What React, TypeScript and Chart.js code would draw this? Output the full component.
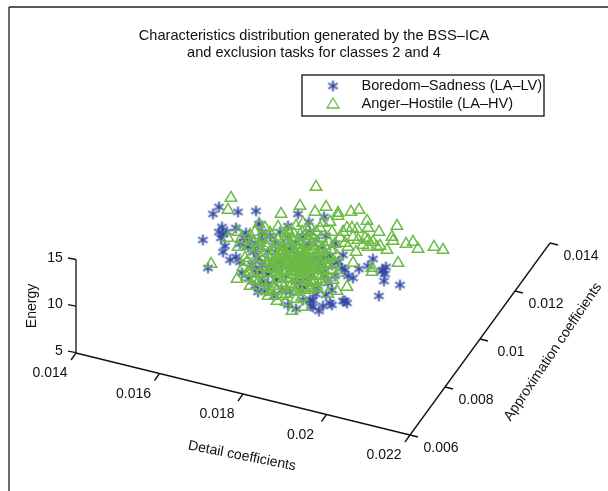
import React, { useEffect, useRef } from "react";
import { Chart, registerables } from "chart.js";

Chart.register(...registerables);

const titleLines = ["Characteristics distribution generated by the BSS–ICA", "and exclusion tasks for classes 2 and 4"];
const seriesNames = ["Boredom–Sadness (LA–LV)", "Anger–Hostile (LA–HV)"];
const energyTicks = [5, 10, 15];
const detailTicks = ["0.014", "0.016", "0.018", "0.02", "0.022"];
const approxTicks = ["0.006", "0.008", "0.01", "0.012", "0.014"];

// Values, in the projected plane of the 3-D view.
const boredom: [number, number][] = [
  [219,207],[213,214],[238,212],[256,211],[298,214],[309,222],[203,240],[222,227],[236,228],[223,234],[227,232],[221,238],[219,232],[225,246],[223,252],[230,260],[236,257],[208,268],[244,238],[246,233],[259,224],[242,273],[249,279],[262,282],[259,272],
  [303,287],[305,283],[310,300],[313,300],[296,309],[311,306],[319,311],[324,217],[343,255],[373,259],[368,266],[359,269],[345,270],[342,268],[348,276],[353,278],[383,270],[386,267],[385,274],[382,271],[384,281],[400,285],[379,296],[343,301],[347,303],[345,301],[330,303],[332,305],[323,306],[326,295],[332,290],[313,307],[332,265],[330,256],[322,268],[325,275],[335,244],
  [250,240],[255,246],[262,240],[270,236],[275,243],[268,252],[258,258],[252,265],[262,265],[272,262],[278,268],[284,258],[290,250],[296,243],[302,236],[310,232],[316,240],[322,248],[326,236],[306,248],[298,255],[292,264],[300,270],[308,262],[315,258],[320,266],[312,275],[304,278],[296,282],[286,276],[276,280],[268,274],[282,290],[290,292],[274,296],[265,291],[255,286],[258,292],[280,232],[288,226],[262,232],[254,252],[248,247],[240,262],[268,284],[288,238],[276,252],[284,246],[310,244],[296,262],[280,262],[270,270],[300,290],[318,286],[328,283],[335,276],[338,262],[324,258],[316,294],[288,305],[303,300],[240,244],[256,270],
];
const anger: [number, number][] = [
  [231,198],[228,210],[300,206],[281,214],[316,187],[315,212],[326,207],[338,213],[338,216],[351,212],[359,210],[367,221],[397,226],[368,228],[323,223],[347,228],[352,228],[357,229],[343,232],[332,232],[379,232],[392,237],[393,241],[365,238],[368,240],[373,242],[380,246],[387,250],[406,244],[413,242],[418,249],[434,247],[443,250],[398,263],[353,237],[345,243],[348,247],[356,252],[337,256],[353,263],[372,268],[372,272],[338,273],[333,280],[347,287],[337,291],[328,294],[315,288],[363,245],[368,247],[377,247],
  [238,232],[228,238],[238,247],[245,258],[211,264],[259,224],[265,228],[278,227],[287,230],[250,235],[253,242],[237,279],[247,277],[250,286],[262,282],[267,290],[277,290],[277,301],[286,302],[292,311],[304,307],[302,297],[305,288],[317,288],[248,272],[303,223],[310,227],[296,226],[320,228],[330,222],[340,238],[358,240],
  [255,232],[262,238],[270,233],[278,240],[286,236],[294,234],[302,232],[312,236],[321,238],[329,242],[258,248],[266,246],[274,250],[282,247],[290,243],[298,241],[306,243],[314,246],[322,249],[331,250],[252,255],[261,258],[269,258],[277,257],[285,254],[293,252],[301,250],[309,252],[317,254],[325,257],[256,266],[264,267],[272,264],[280,264],[288,261],[296,259],[304,258],[312,260],[320,262],[328,265],[260,274],[268,273],[276,272],[284,270],[292,268],[300,266],[308,267],[316,268],[324,271],[332,270],[270,281],[278,279],[286,278],[294,275],[302,273],[310,275],[318,276],[326,279],[284,286],[292,284],[300,281],[308,282],[296,292],[286,294],[274,286],[296,270],[300,262],[304,254],[292,258],[308,262],[288,266],[298,248],[312,270],[282,258],[302,278],[293,288],[310,290],
  [276,244],[281,251],[287,255],[291,248],[295,254],[299,257],[303,262],[307,256],[311,250],[315,257],[319,252],[323,260],[279,261],[283,266],[287,271],[291,263],[295,267],[299,272],[303,268],[307,272],[311,265],[315,264],[319,270],[323,266],[285,241],[293,240],[301,245],[309,239],[317,243],[325,246],[272,255],[275,262],[267,262],[263,253],[270,268],[279,274],[290,279],[298,278],[306,280],[314,281],[322,275],[329,258],[335,263],[335,244],[268,240],[260,243],[249,246],[247,262],[254,273],[289,232],[305,236],[316,232],[298,286],[304,290],[281,283],[291,272],[284,250],[300,253],[296,264],[288,258],[280,254],[306,264],[314,250],[273,269],
  [258,282],[243,267],[254,280],[268,296],[282,296],[272,292],[296,299],[241,239],[262,290],[312,283],[321,282],
];

const toPts = (list: [number, number][]) => list.map(([x, y]) => ({ x, y }));

function makeStar(color: string) {
  const size = 13;
  const c = document.createElement("canvas");
  c.width = size;
  c.height = size;
  const g = c.getContext("2d")!;
  g.strokeStyle = color;
  const spokes = () => {
    for (let i = 0; i < 3; i++) {
      const a = (i * Math.PI) / 3 + Math.PI / 2;
      g.beginPath();
      g.moveTo(6.5 + Math.cos(a) * 5.4, 6.5 + Math.sin(a) * 5.4);
      g.lineTo(6.5 - Math.cos(a) * 5.4, 6.5 - Math.sin(a) * 5.4);
      g.stroke();
    }
  };
  g.globalAlpha = 0.3;
  g.lineWidth = 2.8;
  spokes();
  g.globalAlpha = 1;
  g.lineWidth = 1.25;
  spokes();
  return c;
}

const INK = "#111111";
const FONT = "Liberation Sans, Arial, sans-serif";

const furniture = {
  id: "furniture",
  afterDatasetsDraw(chart: any) {
    const { ctx, scales } = chart;
    const px = (x: number) => scales.x.getPixelForValue(x);
    const py = (y: number) => scales.y.getPixelForValue(y);
    const line = (a: number, b: number, c: number, d: number, w = 1.3, col = INK) => {
      ctx.beginPath();
      ctx.moveTo(px(a), py(b));
      ctx.lineTo(px(c), py(d));
      ctx.lineWidth = w;
      ctx.strokeStyle = col;
      ctx.stroke();
    };
    const text = (s: string, x: number, y: number, size = 14, rot = 0) => {
      ctx.save();
      ctx.translate(px(x), py(y));
      ctx.rotate((rot * Math.PI) / 180);
      ctx.font = `${size}px ${FONT}`;
      ctx.fillStyle = INK;
      ctx.textAlign = "center";
      ctx.textBaseline = "middle";
      ctx.fillText(s, 0, 0);
      ctx.restore();
    };
    ctx.save();
    // frame edges cropped by the figure
    line(9, 7, 9, 491, 1.6, "#444444");
    line(9, 7, 608, 7, 1.3, "#222222");

    // title
    titleLines.forEach((t, i) => text(t, 314, 36 + i * 17, 14.6));

    // legend
    ctx.lineWidth = 1.3;
    ctx.strokeStyle = "#111111";
    ctx.fillStyle = "#ffffff";
    ctx.fillRect(px(302), py(75), 242, 41);
    ctx.strokeRect(px(302), py(75), 242, 41);
    ctx.drawImage(chart.data.datasets[0].pointStyle, px(333) - 6.5, py(86) - 6.5);
    ctx.beginPath();
    ctx.moveTo(px(333), py(98));
    ctx.lineTo(px(339), py(108));
    ctx.lineTo(px(327), py(108));
    ctx.closePath();
    ctx.strokeStyle = "#6cbb45";
    ctx.stroke();
    ctx.textAlign = "left";
    ctx.textBaseline = "middle";
    ctx.font = `14.6px ${FONT}`;
    ctx.fillStyle = INK;
    ctx.fillText(seriesNames[0], px(361.5), py(86));
    ctx.fillText(seriesNames[1], px(361.5), py(104));

    // energy axis
    const zx = 76, zBot = 352.7, zTop = 259.5;
    line(zx, zBot, zx, zTop);
    energyTicks.forEach((v) => {
      const y = zBot + ((v - 5) / 10) * (zTop - zBot);
      line(zx, y, zx - 8, y - 1.5);
      text(String(v), v === 5 ? 59 : 55, y - 1.5, 14);
    });
    text("Energy", 32, 306, 14, -90);

    // detail axis
    const d0 = [76, 353], d1 = [410, 435];
    line(d0[0], d0[1], d1[0], d1[1]);
    detailTicks.forEach((t, i) => {
      const f = i / (detailTicks.length - 1);
      const x = d0[0] + f * (d1[0] - d0[0]), y = d0[1] + f * (d1[1] - d0[1]);
      line(x, y, x - 5, y + 7);
      text(t, x - 26, y + 20.5, 14);
    });
    text("Detail coefficients", 242, 456, 14, 11);

    // approximation axis
    const a0 = [410, 435], a1 = [550, 243];
    line(a0[0], a0[1], a1[0], a1[1]);
    approxTicks.forEach((t, i) => {
      const f = i / (approxTicks.length - 1);
      const x = a0[0] + f * (a1[0] - a0[0]), y = a0[1] + f * (a1[1] - a0[1]);
      line(x, y, x + 8, y + 2);
      text(t, x + 31, y + 13, 14);
    });
    text("Approximation coefficients", 553, 352, 14, -56);
    ctx.restore();
  },
};

export default function App() {
  const ref = useRef<HTMLCanvasElement>(null);
  useEffect(() => {
    document.body.style.margin = "0";
    const star = makeStar("#3348a2");
    const chart: any = new Chart(ref.current!, {
      type: "scatter",
      data: {
        datasets: [
          { label: seriesNames[0], order: 1, data: toPts(boredom), pointStyle: star as any, pointRadius: 6, showLine: false },
          { label: seriesNames[1], order: 0, data: toPts(anger), pointStyle: "triangle", pointRadius: 6.6, pointBorderWidth: 1.5, pointBorderColor: "#6cbb45", pointBackgroundColor: "rgba(0,0,0,0)", showLine: false },
        ],
      },
      options: {
        animation: false,
        responsive: false,
        layout: { padding: 0, autoPadding: false },
        plugins: { legend: { display: false }, title: { display: false }, tooltip: { enabled: false } },
        scales: {
          x: { type: "linear", min: 0, max: 608, display: false },
          y: { type: "linear", min: 0, max: 491, reverse: true, display: false },
        },
      },
      plugins: [furniture],
    });
    return () => chart.destroy();
  }, []);
  return (
    <div style={{ position: "absolute", left: 0, top: 0, width: 608, height: 491, background: "#fff" }}>
      <canvas ref={ref} width={608} height={491} style={{ display: "block" }} />
    </div>
  );
}
